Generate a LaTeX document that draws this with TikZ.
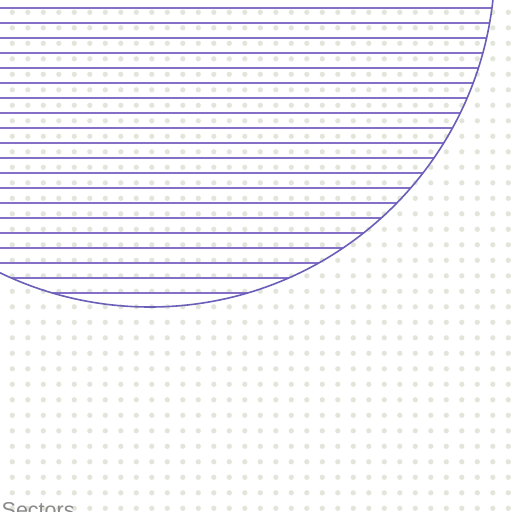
\documentclass[tikz,border=0pt]{standalone}
\usepackage{fontspec}
\setmainfont{Liberation Sans}
\definecolor{dotc}{HTML}{E2E6DA}
\definecolor{hatchc}{HTML}{8570C8}
\definecolor{circc}{HTML}{6A5FB8}
\definecolor{textc}{HTML}{8A8A8A}
\tikzset{
  bgdot/.style={fill=dotc,draw=none},
  hatchline/.style={draw=hatchc,line width=1.8pt},
  circline/.style={draw=circc,line width=1.6pt},
  label/.style={text=textc,font=\fontsize{21.5}{24}\selectfont,inner sep=0pt,anchor=base west}
}
\begin{document}
\begin{tikzpicture}[x=1pt,y=-1pt]
\useasboundingbox (0,0) rectangle (512,512);
\fill[white] (0,0) rectangle (512,512);
\clip (0,0) rectangle (512,512);
% dotted background
\foreach \i in {0,...,32}{
  \foreach \j in {0,...,32}{
    \fill[bgdot] ({12.3+15.5*\i},{12.3+15.5*\j}) circle (2.6);
  }
}
% hatch lines inside the circle
\begin{scope}
  \clip (150,-38) circle (345);
  \foreach \k in {0,...,19}{
    \draw[hatchline] (-5,{8+15*\k}) -- (520,{8+15*\k});
  }
\end{scope}
\draw[circline] (150,-38) circle (345);
\node[label] (title) at (1.5,517.7) {Sectors};
\end{tikzpicture}
\end{document}
